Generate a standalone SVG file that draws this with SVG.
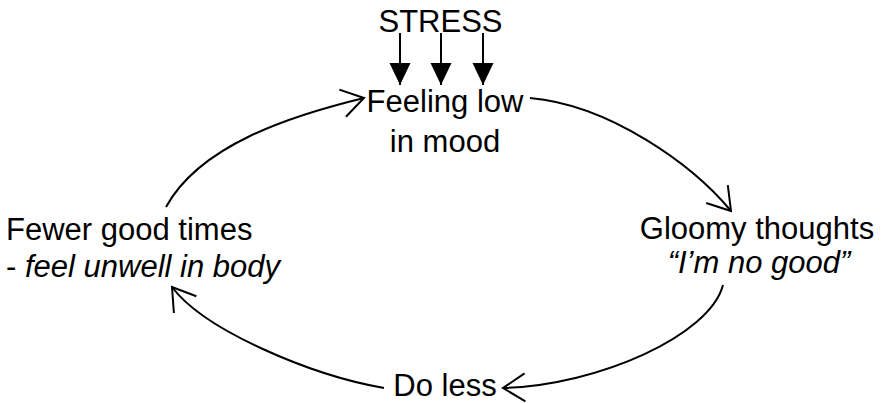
<svg xmlns="http://www.w3.org/2000/svg" width="884" height="403" viewBox="0 0 884 403">
<style>
text{font-family:"Liberation Sans",Arial,sans-serif;font-size:31px;fill:#000}
.it{font-style:italic}
.c{text-anchor:middle}
.conn{fill:none;stroke:#000;stroke-width:2}
</style>
<defs>
<marker id="open" markerUnits="userSpaceOnUse" markerWidth="40" markerHeight="40" refX="0" refY="0" viewBox="-30 -20 40 40" orient="auto" overflow="visible">
<path d="M-22,-14 L0,0 L-22,14" fill="none" stroke="#000" stroke-width="2"/>
</marker>
<marker id="solid" markerUnits="userSpaceOnUse" markerWidth="30" markerHeight="30" refX="0" refY="0" viewBox="-25 -15 30 30" orient="auto" overflow="visible">
<path d="M-22,-10.5 L0,0 L-22,10.5 Z" fill="#000"/>
</marker>
</defs>
<rect width="884" height="403" fill="#fff"/>
<g id="stress"><text class="c" x="440.5" y="32">STRESS</text></g>
<g id="feeling-low"><text class="c" x="445" y="112">Feeling low</text><text class="c" x="445" y="152">in mood</text></g>
<g id="gloomy"><text class="c" x="757" y="239">Gloomy thoughts</text><text class="c it" x="759" y="273">“I’m no good”</text></g>
<g id="do-less"><text class="c" x="445" y="396">Do less</text></g>
<g id="fewer"><text x="6" y="240">Fewer good times</text><text x="6" y="277">- <tspan class="it">feel unwell in body</tspan></text></g>
<g id="connectors">
<line class="conn" x1="400" y1="33" x2="400" y2="85" marker-end="url(#solid)"/>
<line class="conn" x1="441" y1="33" x2="441" y2="85" marker-end="url(#solid)"/>
<line class="conn" x1="483" y1="33" x2="483" y2="85" marker-end="url(#solid)"/>
<path class="conn" d="M166,207 C200,145 290,116 364,98" marker-end="url(#open)"/>
<path class="conn" d="M530,98 C610,105 693,165 731,211" marker-end="url(#open)"/>
<path class="conn" d="M723,285 C710,335 600,385 503,388" marker-end="url(#open)"/>
<path class="conn" d="M384,388 C310,375 204,330 172,287" marker-end="url(#open)"/>
</g>
</svg>
